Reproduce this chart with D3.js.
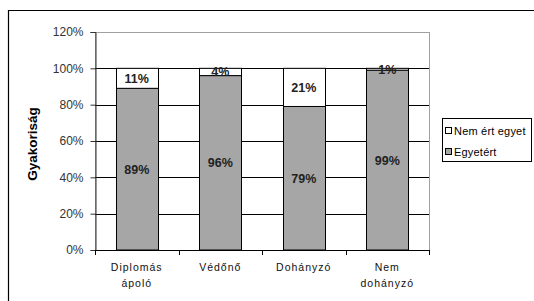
<!DOCTYPE html>
<html>
<head>
<meta charset="utf-8">
<script src="https://cdn.jsdelivr.net/npm/d3@7"></script>
<style>
  body { margin: 0; background: #fff; }
  svg text { font-family: Arial, "Liberation Sans", sans-serif; }
</style>
</head>
<body>
<div id="chart"></div>
<script>
// data
var categories = [["Diplomás", "ápoló"], ["Védőnő"], ["Dohányzó"], ["Nem", "dohányzó"]];
var agree = [89, 96, 79, 99];      // Egyetért
var disagree = [11, 4, 21, 1];     // Nem ért egyet
var yTicks = [0, 20, 40, 60, 80, 100, 120];
var seriesNames = ["Nem ért egyet", "Egyetért"];

var W = 534, H = 301;
var plotLeft = 95, plotRight = 429, plotTop = 32, plotBottom = 250;

var svg = d3.select("#chart").append("svg")
    .attr("width", W)
    .attr("height", H);

svg.append("rect").attr("width", W).attr("height", H).style("fill", "#fff");

// outer frame
svg.append("path")
    .attr("d", "M8.5," + (H + 5) + " V10.5 H" + (W + 5))
    .attr("fill", "none")
    .attr("stroke", "#000")
    .attr("stroke-width", 1.2);

var x = d3.scaleBand()
    .domain(d3.range(categories.length))
    .range([plotLeft, plotRight])
    .paddingInner(0.5)
    .paddingOuter(0.25);

var xOuter = d3.scaleBand()
    .domain(d3.range(categories.length))
    .range([plotLeft, plotRight]);

var y = d3.scaleLinear().domain([0, 120]).range([plotBottom, plotTop]);

// plot area border (light gray)
svg.append("rect")
    .attr("x", plotLeft + 0.5).attr("y", y(120) + 0.5)
    .attr("width", plotRight - plotLeft).attr("height", plotBottom - y(120))
    .attr("fill", "none")
    .attr("stroke", "#a0a0a0");

// gridlines
svg.append("g").selectAll("line")
    .data(yTicks.filter(function(d){ return d > 0 && d < 120; }))
    .enter().append("line")
    .attr("x1", plotLeft).attr("x2", plotRight)
    .attr("y1", function(d){ return Math.round(y(d)) + 0.5; })
    .attr("y2", function(d){ return Math.round(y(d)) + 0.5; })
    .attr("stroke", "#000");

// bars
var stack = [
  { name: "Egyetért", vals: agree, base: function(i){ return 0; }, fill: "#a6a6a6" },
  { name: "Nem ért egyet", vals: disagree, base: function(i){ return agree[i]; }, fill: "#ffffff" }
];

stack.forEach(function(s) {
  svg.append("g").selectAll("rect")
      .data(s.vals)
      .enter().append("rect")
      .attr("x", function(d, i){ return Math.round(x(i)) + 0.5; })
      .attr("width", Math.round(x.bandwidth()))
      .attr("y", function(d, i){ return y(s.base(i) + d); })
      .attr("height", function(d, i){ return y(s.base(i)) - y(s.base(i) + d); })
      .style("fill", s.fill)
      .attr("stroke", "#000")
      .attr("stroke-width", 1);
});

// value labels
stack.forEach(function(s) {
  svg.append("g").selectAll("text")
      .data(s.vals)
      .enter().append("text")
      .attr("x", function(d, i){ return x(i) + x.bandwidth() / 2; })
      .attr("y", function(d, i){ return y(s.base(i) + d / 2); })
      .attr("dy", "0.36em")
      .attr("text-anchor", "middle")
      .attr("font-size", "12.5px")
      .attr("font-weight", "bold")
      .style("fill", "#222")
      .text(function(d){ return d + "%"; });
});

// y axis
var yAxis = d3.axisLeft(y)
    .tickValues(yTicks)
    .tickSize(5)
    .tickFormat(function(d){ return d + "%"; });

var yG = svg.append("g")
    .attr("transform", "translate(" + (plotLeft + 0.5) + ",0)")
    .call(yAxis);
yG.select(".domain").attr("stroke", "#333");
yG.selectAll(".tick line").attr("stroke", "#333");
yG.selectAll(".tick text")
    .attr("x", -12)
    .attr("font-size", "12px")
    .attr("font-family", "Arial, 'Liberation Sans', sans-serif")
    .style("fill", "#333");

// x axis (ticks between categories)
svg.append("line")
    .attr("x1", plotLeft).attr("x2", plotRight + 1)
    .attr("y1", plotBottom + 0.5).attr("y2", plotBottom + 0.5)
    .attr("stroke", "#000");

svg.append("g").selectAll("line")
    .data(d3.range(categories.length + 1))
    .enter().append("line")
    .attr("x1", function(i){ return Math.round(plotLeft + i * xOuter.bandwidth()) + 0.5; })
    .attr("x2", function(i){ return Math.round(plotLeft + i * xOuter.bandwidth()) + 0.5; })
    .attr("y1", plotBottom).attr("y2", plotBottom + 5)
    .attr("stroke", "#000");

var catG = svg.append("g").selectAll("text")
    .data(categories)
    .enter().append("text")
    .attr("x", function(d, i){ return xOuter(i) + xOuter.bandwidth() / 2; })
    .attr("y", 271)
    .attr("text-anchor", "middle")
    .attr("font-size", "10.5px")
    .attr("letter-spacing", "1px")
    .style("fill", "#111");

catG.selectAll("tspan")
    .data(function(d){ return d; })
    .enter().append("tspan")
    .attr("x", function(){ return d3.select(this.parentNode).attr("x"); })
    .attr("dy", function(d, j){ return j === 0 ? 0 : 16; })
    .text(function(d){ return d; });

// y title
svg.append("text")
    .attr("transform", "translate(37," + 144 + ") rotate(-90)")
    .attr("text-anchor", "middle")
    .attr("font-size", "13.5px")
    .attr("font-weight", "bold")
    .attr("font-family", "'Liberation Sans Narrow', 'DejaVu Sans Condensed', Arial, sans-serif")
    .style("fill", "#000")
    .text("Gyakoriság");

// legend
var legend = svg.append("g").attr("transform", "translate(442,118)");
legend.append("rect")
    .attr("x", 0.5).attr("y", 0.5)
    .attr("width", 89).attr("height", 43)
    .attr("fill", "#fff")
    .attr("stroke", "#000");

var legendFills = ["#ffffff", "#a6a6a6"];
var items = legend.selectAll("g.item")
    .data(seriesNames)
    .enter().append("g")
    .attr("class", "item")
    .attr("transform", function(d, i){ return "translate(2," + (13 + i * 21) + ")"; });

items.append("rect")
    .attr("x", 1.5).attr("y", -3.5)
    .attr("width", 6).attr("height", 6)
    .style("fill", function(d, i){ return legendFills[i]; })
    .attr("stroke", "#000");

items.append("text")
    .attr("x", 10)
    .attr("y", 0)
    .attr("dy", "0.35em")
    .attr("font-size", "11px")
    .attr("letter-spacing", "0.2px")
    .style("fill", "#000")
    .text(function(d){ return d; });
</script>
</body>
</html>
